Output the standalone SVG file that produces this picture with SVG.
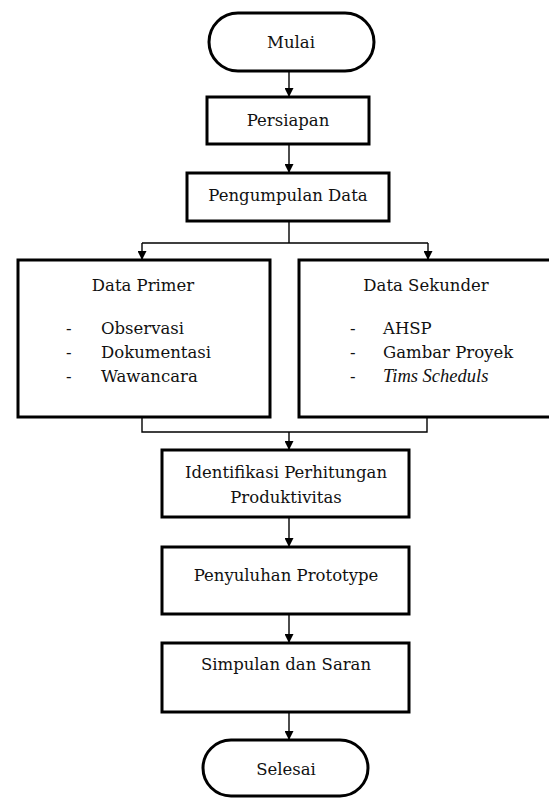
<svg xmlns="http://www.w3.org/2000/svg" width="549" height="799" viewBox="0 0 549 799">
<defs>
<marker id="arr" viewBox="0 0 10 10" refX="10" refY="5" markerWidth="9" markerHeight="9" markerUnits="userSpaceOnUse" orient="auto">
<path d="M0,0 L10,5 L0,10 z" fill="#000"/>
</marker>
<style>
.box{fill:#fff;stroke:#000;stroke-width:3}
.ln{fill:none;stroke:#000;stroke-width:1.4}
.t{font-family:"DejaVu Serif","Liberation Serif",serif;font-size:16.5px;fill:#111;text-anchor:middle}
.l{font-family:"DejaVu Serif","Liberation Serif",serif;font-size:16.5px;fill:#111}
.i{font-family:"Liberation Serif","DejaVu Serif",serif;font-style:italic;font-size:18.5px}
</style>
</defs>
<rect width="549" height="799" fill="#fff"/>
<g id="connectors">
<path class="ln" d="M289,71 V97" marker-end="url(#arr)"/>
<path class="ln" d="M289,144 V173" marker-end="url(#arr)"/>
<path class="ln" d="M289,221 V243 M142,243 H428"/>
<path class="ln" d="M142,243 V260" marker-end="url(#arr)"/>
<path class="ln" d="M428,243 V260" marker-end="url(#arr)"/>
<path class="ln" d="M142,417 V432 H427 V417"/>
<path class="ln" d="M289,432 V450" marker-end="url(#arr)"/>
<path class="ln" d="M289,517 V547" marker-end="url(#arr)"/>
<path class="ln" d="M289,614 V643" marker-end="url(#arr)"/>
<path class="ln" d="M289,712 V740" marker-end="url(#arr)"/>
</g>
<g id="mulai">
<rect class="box" x="209" y="13" width="165" height="58" rx="29"/>
<text class="t" x="291" y="48">Mulai</text>
</g>
<g id="persiapan">
<rect class="box" x="207" y="97" width="162" height="47"/>
<text class="t" x="288" y="126">Persiapan</text>
</g>
<g id="pengumpulan">
<rect class="box" x="187" y="173" width="202" height="48"/>
<text class="t" x="288" y="201">Pengumpulan Data</text>
</g>
<g id="primer">
<rect class="box" x="18" y="260" width="252" height="157"/>
<text class="t" x="143" y="291">Data Primer</text>
<text class="l" x="66" y="334">-</text><text class="l" x="101" y="334">Observasi</text>
<text class="l" x="66" y="358">-</text><text class="l" x="101" y="358">Dokumentasi</text>
<text class="l" x="66" y="382">-</text><text class="l" x="101" y="382">Wawancara</text>
</g>
<g id="sekunder">
<rect class="box" x="299" y="260" width="256" height="157"/>
<text class="t" x="426" y="291">Data Sekunder</text>
<text class="l" x="350" y="334">-</text><text class="l" x="383" y="334">AHSP</text>
<text class="l" x="350" y="358">-</text><text class="l" x="383" y="358">Gambar Proyek</text>
<text class="l" x="350" y="382">-</text><text class="l i" x="383" y="382">Tims Scheduls</text>
</g>
<g id="identifikasi">
<rect class="box" x="162" y="450" width="247" height="67"/>
<text class="t" x="286" y="478">Identifikasi Perhitungan</text>
<text class="t" x="286" y="503">Produktivitas</text>
</g>
<g id="penyuluhan">
<rect class="box" x="162" y="547" width="247" height="67"/>
<text class="t" x="286" y="581">Penyuluhan Prototype</text>
</g>
<g id="simpulan">
<rect class="box" x="162" y="643" width="247" height="69"/>
<text class="t" x="286" y="670">Simpulan dan Saran</text>
</g>
<g id="selesai">
<rect class="box" x="203" y="740" width="165" height="56" rx="28"/>
<text class="t" x="286" y="775">Selesai</text>
</g>
</svg>
